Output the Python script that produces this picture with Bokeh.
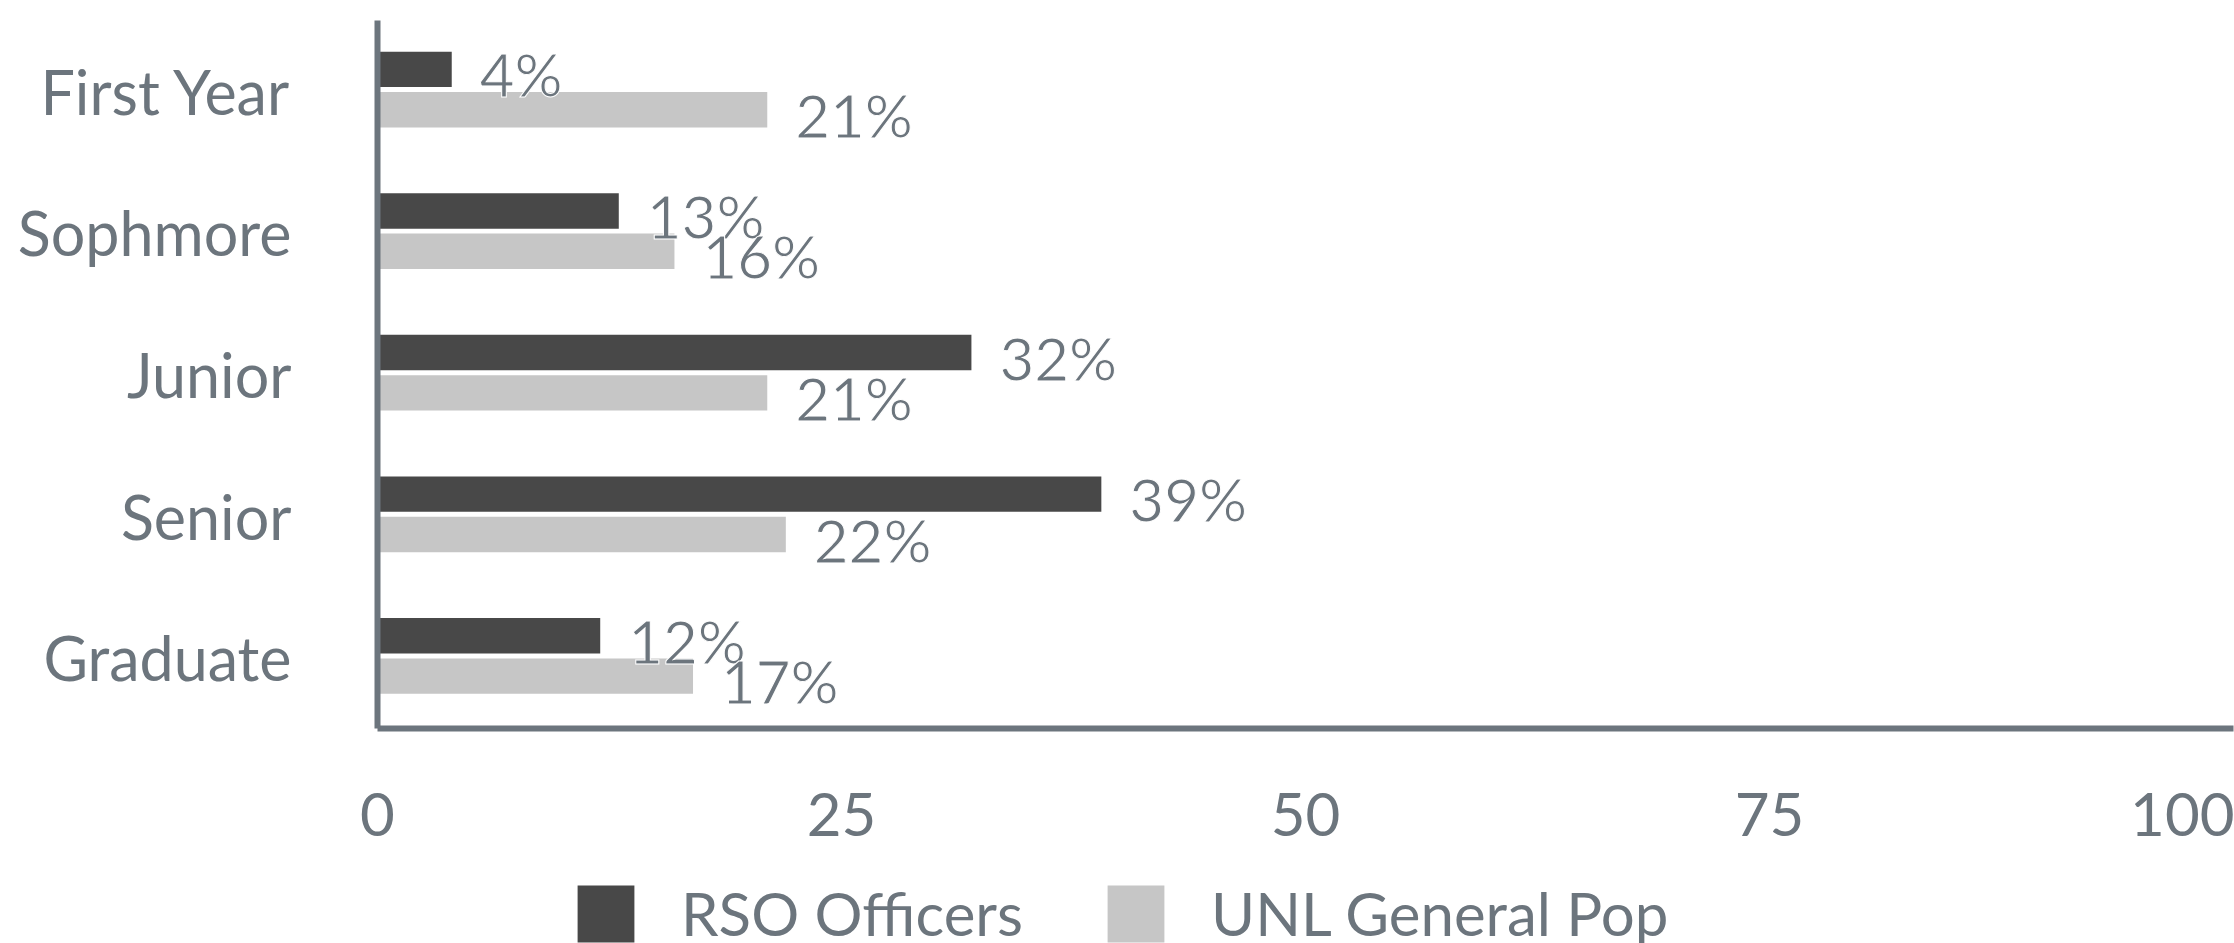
from bokeh.plotting import figure
from bokeh.layouts import column
from bokeh.models import (Range1d, FactorRange, FixedTicker, Legend, LegendItem,
                          ColumnDataSource)
from bokeh.transform import dodge
from bokeh.core.properties import value
from bokeh.embed import file_html
from bokeh.resources import INLINE

# ---- data ----
categories = ["First Year", "Sophmore", "Junior", "Senior", "Graduate"]
rso_officers = [4, 13, 32, 39, 12]
unl_general = [21, 16, 21, 22, 17]
x_ticks = [0, 25, 50, 75, 100]
series_names = ["RSO Officers", "UNL General Pop"]

# ---- styles ----
TEXT = "#6c757d"
DARK = "#484848"
LIGHT = "#c6c6c6"
FONT = "Lato"
FS = "60px"
W = 2234

source = ColumnDataSource(dict(
    cat=categories,
    rso=rso_officers,
    unl=unl_general,
    rso_lbl=[f"{v}%" for v in rso_officers],
    unl_lbl=[f"{v}%" for v in unl_general],
))

p = figure(width=W, height=870, output_backend="svg", toolbar_location=None,
           x_range=Range1d(0, 100), y_range=FactorRange(factors=categories[::-1]),
           min_border_left=377, min_border_right=1, min_border_top=20,
           min_border_bottom=142)
p.outline_line_color = None
p.xgrid.grid_line_color = None
p.ygrid.grid_line_color = None
p.background_fill_color = "white"

BAR_H = 0.25
r_dark = p.hbar(y=dodge("cat", 0.155, range=p.y_range), right="rso", left=0,
                height=BAR_H, source=source, fill_color=DARK, line_color=None)
r_light = p.hbar(y=dodge("cat", -0.13, range=p.y_range), right="unl", left=0,
                 height=BAR_H, source=source, fill_color=LIGHT, line_color=None)

p.text(x="rso", y=dodge("cat", 0.155, range=p.y_range), text="rso_lbl", source=source,
       x_offset=28, y_offset=5, text_align="left", text_baseline="middle",
       text_font=value(FONT), text_font_size=FS, text_color=TEXT,
       text_outline_color="white")
p.text(x="unl", y=dodge("cat", -0.13, range=p.y_range), text="unl_lbl", source=source,
       x_offset=28, y_offset=5, text_align="left", text_baseline="middle",
       text_font=value(FONT), text_font_size=FS, text_color=TEXT,
       text_outline_color="white")

# axes
for ax in (p.xaxis[0], p.yaxis[0]):
    ax.axis_line_color = TEXT
    ax.axis_line_width = 6
    ax.major_tick_line_color = None
    ax.minor_tick_line_color = None
    ax.major_tick_out = 0
    ax.major_tick_in = 0
    ax.minor_tick_out = 0
    ax.major_label_text_color = TEXT
    ax.major_label_text_font = FONT
    ax.major_label_text_font_size = FS

p.yaxis.major_label_text_font_size = "61px"
p.yaxis.major_label_standoff = 86
p.xaxis.ticker = FixedTicker(ticks=x_ticks)
p.xaxis.major_label_standoff = 64

# ---- legend strip below the chart ----
# same series drawn in a strip whose x range lies past the data, so only the
# legend shows
pl = figure(width=W, height=73, output_backend="svg", toolbar_location=None,
            x_range=Range1d(-1001, -1000), y_range=FactorRange(factors=categories[::-1]),
            x_axis_location=None, y_axis_location=None, min_border=0)
pl.outline_line_color = None
pl.xgrid.grid_line_color = None
pl.ygrid.grid_line_color = None
l_dark = pl.hbar(y="cat", right="rso", left=0, height=0.001, source=source,
                 fill_color=DARK, line_color=None)
l_light = pl.hbar(y="cat", right="unl", left=0, height=0.001, source=source,
                  fill_color=LIGHT, line_color=None)

legend = Legend(items=[LegendItem(label=series_names[0], renderers=[l_dark]),
                       LegendItem(label=series_names[1], renderers=[l_light])],
                orientation="horizontal", location=(193, -6),
                glyph_width=71, glyph_height=71, label_standoff=40, spacing=77,
                padding=0, margin=0, border_line_color=None,
                background_fill_alpha=0,
                label_text_font=FONT, label_text_font_size=FS,
                label_text_color=TEXT, label_height=57)
pl.add_layout(legend, "center")

layout = column(p, pl, spacing=0)
open("out.html", "w").write(file_html(layout, INLINE))
